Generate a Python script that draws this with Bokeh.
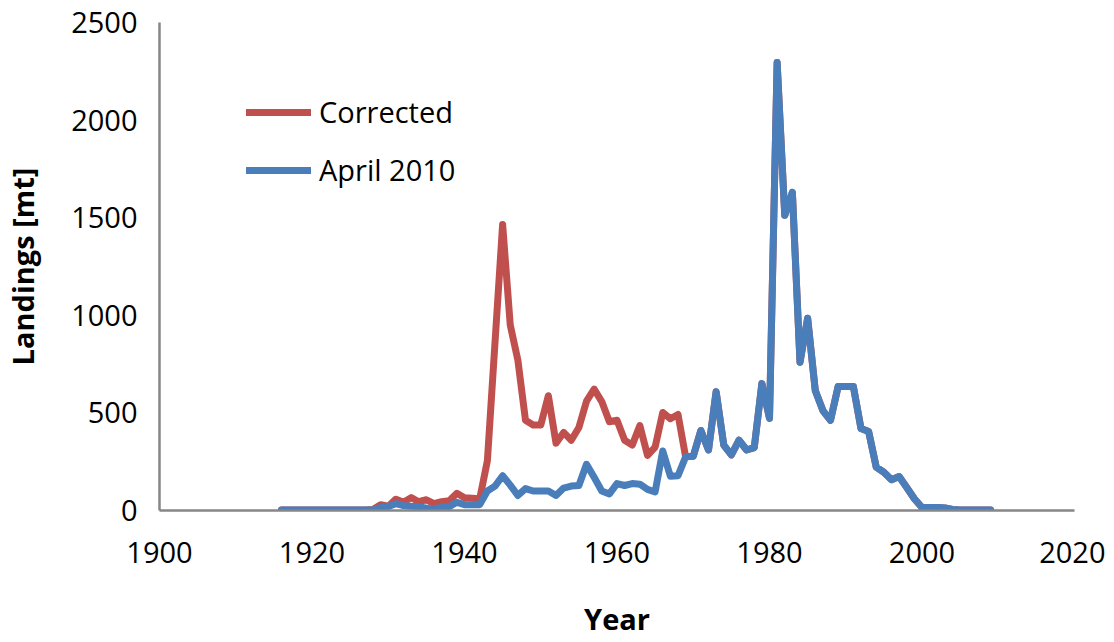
from bokeh.plotting import figure
from bokeh.models import FixedTicker, Legend, LegendItem
from bokeh.embed import file_html
from bokeh.resources import INLINE

years = list(range(1916, 2010))

april_2010 = [
    2, 2, 2, 2, 2, 2, 2, 2, 2, 2, 2, 2, 2,          # 1916-1928
    15, 20, 35, 25, 22, 20, 12, 5, 18, 20, 42,      # 1929-1939
    30, 30, 30, 100, 125, 178, 130, 77, 112, 100,   # 1940-1949
    100, 100, 77, 115, 125, 128, 237, 170, 100, 85, # 1950-1959
    138, 128, 138, 135, 108, 95, 305, 175, 178, 275,# 1960-1969
    278, 410, 310, 608, 335, 285, 360, 310, 322, 650,  # 1970-1979
    472, 2295, 1512, 1630, 760, 985, 615, 512, 462, 635,  # 1980-1989
    635, 635, 420, 405, 222, 196, 158, 174, 118, 60,  # 1990-1999
    15, 15, 15, 13, 5, 3, 3, 3, 3, 3,               # 2000-2009
]

corrected = [
    2, 2, 2, 2, 2, 2, 2, 2, 2, 2, 2, 2, 5,          # 1916-1928
    30, 22, 58, 42, 66, 45, 55, 35, 45, 50, 88,     # 1929-1939
    65, 63, 60, 255, 860, 1465, 950, 770, 462, 438, # 1940-1949
    438, 588, 345, 400, 360, 425, 560, 622, 558, 455,  # 1950-1959
    462, 360, 335, 435, 282, 325, 502, 470, 492, 275,  # 1960-1969
    278, 410, 310, 608, 335, 285, 360, 310, 322, 650,  # 1970-1979
    472, 2295, 1512, 1630, 760, 985, 615, 512, 462, 635,  # 1980-1989
    635, 635, 420, 405, 222, 196, 158, 174, 118, 60,  # 1990-1999
    15, 15, 15, 13, 5, 3, 3, 3, 3, 3,               # 2000-2009
]

x_ticks = [1900, 1920, 1940, 1960, 1980, 2000, 2020]
y_ticks = [0, 500, 1000, 1500, 2000, 2500]

RED = "#C0504D"
BLUE = "#4A7EBB"
AXIS = "#868686"
FONT = "Open Sans"

p = figure(
    frame_width=915, frame_height=488,
    x_range=(1900, 2020), y_range=(0, 2500),
    output_backend="svg", toolbar_location=None,
    min_border_left=152, min_border_top=22,
    min_border_right=31, min_border_bottom=116,
)
p.outline_line_color = None
p.xgrid.visible = False
p.ygrid.visible = False

r_red = p.line(years, corrected, line_color=RED, line_width=7,
               line_join="round", line_cap="round")
r_blue = p.line(years, april_2010, line_color=BLUE, line_width=7,
                line_join="round", line_cap="round")

for ax in (p.xaxis[0], p.yaxis[0]):
    ax.axis_line_color = AXIS
    ax.axis_line_width = 2.5
    ax.major_tick_line_color = None
    ax.minor_tick_line_color = None
    ax.major_label_text_font = FONT
    ax.major_label_text_font_size = "29px"
    ax.major_label_text_color = "black"
    ax.axis_label_text_font = FONT
    ax.axis_label_text_font_size = "29px"
    ax.axis_label_text_font_style = "bold"
    ax.axis_label_text_color = "black"

p.xaxis.ticker = FixedTicker(ticks=x_ticks)
p.yaxis.ticker = FixedTicker(ticks=y_ticks)
p.xaxis.axis_label = "Year"
p.yaxis.axis_label = "Landings [mt]"
p.xaxis.major_label_standoff = 25
p.yaxis.major_label_standoff = 16
p.xaxis.axis_label_standoff = 33
p.yaxis.axis_label_standoff = 26

legend = Legend(
    items=[LegendItem(label="Corrected", renderers=[r_red]),
           LegendItem(label="April 2010", renderers=[r_blue])],
    location=(87, 321),
    orientation="vertical",
    glyph_width=65, glyph_height=30, label_height=30,
    spacing=19, padding=0, margin=0, label_standoff=8,
    border_line_color=None, background_fill_alpha=0,
    label_text_font=FONT, label_text_font_size="29px",
    label_text_color="black",
)
p.add_layout(legend)

open("out.html", "w").write(file_html(p, INLINE))
